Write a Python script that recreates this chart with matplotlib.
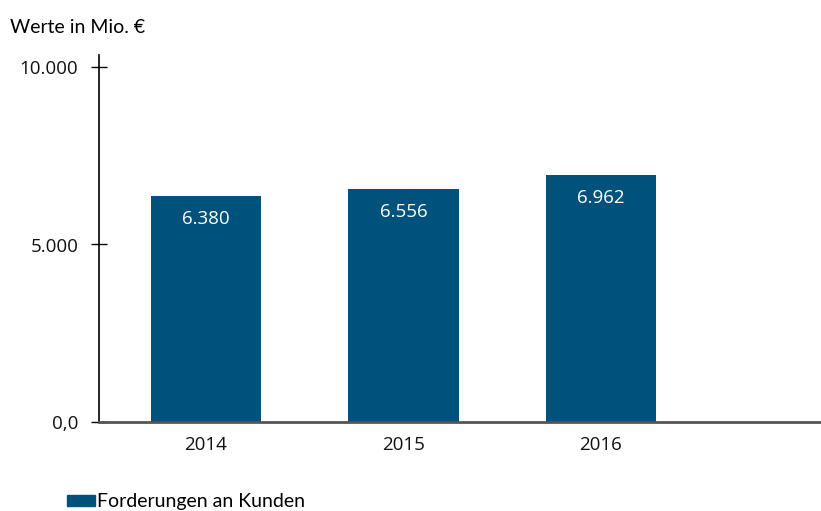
import matplotlib
matplotlib.use('Agg')
from matplotlib import pyplot as plt
from matplotlib.patches import Patch

plt.rcParams['font.family'] = ['Lato', 'DejaVu Sans']

# data
years = ['2014', '2015', '2016']
values = [6380, 6556, 6962]
value_labels = ['6.380', '6.556', '6.962']
yticks = [0, 5000, 10000]
ytick_labels = ['0,0', '5.000', '10.000']
bar_color = '#00527c'
num_font = ['Open Sans', 'DejaVu Sans']

fig = plt.figure(figsize=(8.21, 5.11), dpi=100)
ax = fig.add_axes([99 / 821, 1 - 422 / 511, (820 - 99) / 821, (422 - 67) / 511 * 1.035])

xs = list(range(len(years)))
ax.bar(xs, values, width=0.56, color=bar_color, zorder=2)
for x, v, lab in zip(xs, values, value_labels):
    ax.text(x, v - 650, lab, ha='center', va='center', color='white',
            fontsize=13.5, family=num_font)

ax.set_xlim(-0.542, 3.109)
ax.set_ylim(0, 10350)
ax.set_yticks(yticks)
ax.set_yticklabels(ytick_labels, fontsize=13.5, family=num_font, color='#111111')
ax.set_xticks(xs)
ax.set_xticklabels(years, fontsize=13.5, family=num_font, color='#111111')
ax.tick_params(axis='x', length=0, pad=10)
ax.tick_params(axis='y', direction='inout', length=12, width=1, pad=9, color='black')

for s in ['top', 'right']:
    ax.spines[s].set_visible(False)
ax.spines['left'].set_color('black')
ax.spines['left'].set_linewidth(1.2)
ax.spines['bottom'].set_color('#555555')
ax.spines['bottom'].set_linewidth(2)

fig.text(10 / 821, 1 - 27 / 511, 'Werte in Mio. €', fontsize=14, va='center', ha='left')

handles = [Patch(color=bar_color, label='Forderungen an Kunden')]
fig.legend(handles=handles, loc='center left', bbox_to_anchor=(49 / 821, 1 - 502 / 511),
           frameon=False, fontsize=14, handlelength=1.45, handleheight=0.55, handletextpad=0.1)

plt.savefig('out.png', dpi=100)
